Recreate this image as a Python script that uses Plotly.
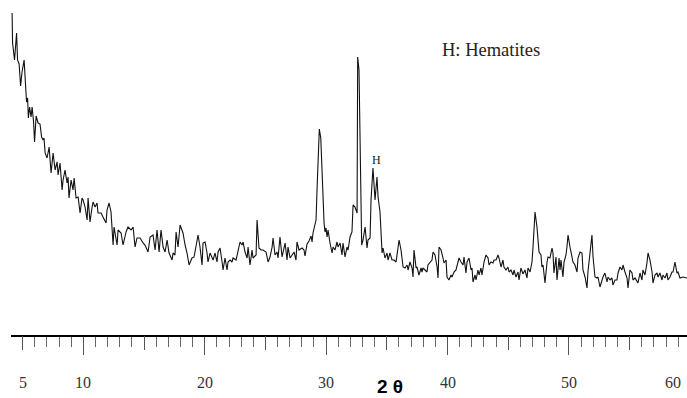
import plotly.graph_objects as go

# Powder XRD scan: diffraction angle (degrees 2-theta) and intensity (arb. units)
two_theta = [
    4.13, 4.17, 4.33, 4.50, 4.58, 4.71, 4.83, 4.95, 5.12, 5.32, 5.41, 5.47, 5.57, 5.69, 5.78, 5.90,
    5.98, 6.11, 6.27, 6.43, 6.56, 6.68, 6.76, 6.85, 7.01, 7.18, 7.34, 7.51, 7.67, 7.84, 7.92, 8.08,
    8.25, 8.33, 8.49, 8.66, 8.74, 8.82, 8.99, 9.15, 9.24, 9.40, 9.57, 9.73, 9.89, 9.98, 10.14, 10.31,
    10.39, 10.55, 10.72, 10.80, 10.97, 11.13, 11.21, 11.46, 11.62, 11.87, 11.95, 12.12, 12.28, 12.45,
    12.53, 12.78, 12.86, 13.11, 13.27, 13.52, 13.68, 13.93, 14.10, 14.26, 14.42, 14.67, 14.92, 15.08,
    15.33, 15.50, 15.74, 15.91, 16.07, 16.24, 16.40, 16.57, 16.73, 16.90, 17.06, 17.31, 17.39, 17.55,
    17.64, 17.80, 17.97, 18.13, 18.21, 18.38, 18.54, 18.71, 18.95, 19.12, 19.37, 19.45, 19.61, 19.78,
    19.86, 20.03, 20.19, 20.27, 20.44, 20.69, 20.85, 21.01, 21.10, 21.26, 21.43, 21.51, 21.67, 21.84,
    21.92, 22.09, 22.25, 22.33, 22.58, 22.74, 22.91, 23.07, 23.16, 23.32, 23.49, 23.57, 23.73, 23.90,
    23.98, 24.23, 24.31, 24.47, 24.64, 24.80, 25.05, 25.22, 25.38, 25.55, 25.63, 25.79, 25.96, 26.04,
    26.20, 26.37, 26.45, 26.62, 26.78, 26.86, 27.03, 27.19, 27.36, 27.52, 27.60, 27.77, 28.02, 28.18,
    28.26, 28.43, 28.59, 28.76, 28.84, 28.92, 29.17, 29.25, 29.38, 29.44, 29.56, 29.66, 29.75, 29.83,
    29.91, 29.99, 30.08, 30.16, 30.32, 30.49, 30.57, 30.73, 30.90, 30.98, 31.15, 31.31, 31.39, 31.56,
    31.72, 31.81, 31.97, 32.13, 32.22, 32.38, 32.55, 32.60, 32.71, 32.85, 32.93, 33.04, 33.21, 33.37,
    33.45, 33.62, 33.70, 33.86, 34.03, 34.19, 34.28, 34.44, 34.61, 34.69, 34.85, 35.02, 35.10, 35.26,
    35.43, 35.59, 35.76, 35.92, 36.01, 36.17, 36.34, 36.50, 36.67, 36.75, 36.91, 37.08, 37.16, 37.24,
    37.41, 37.49, 37.65, 37.82, 37.90, 37.98, 38.15, 38.31, 38.39, 38.56, 38.72, 38.81, 38.97, 39.14,
    39.22, 39.30, 39.47, 39.63, 39.71, 39.88, 39.96, 40.12, 40.29, 40.37, 40.54, 40.70, 40.87, 40.95,
    41.11, 41.28, 41.36, 41.52, 41.61, 41.77, 41.94, 42.02, 42.10, 42.27, 42.35, 42.51, 42.60, 42.76,
    42.84, 43.01, 43.17, 43.34, 43.42, 43.58, 43.75, 43.83, 44.00, 44.16, 44.24, 44.41, 44.57, 44.65,
    44.82, 44.98, 45.07, 45.23, 45.40, 45.48, 45.64, 45.81, 45.89, 46.05, 46.22, 46.38, 46.55, 46.63,
    46.80, 46.96, 47.04, 47.21, 47.37, 47.46, 47.54, 47.70, 47.78, 47.87, 48.03, 48.20, 48.28, 48.44,
    48.61, 48.69, 48.77, 48.94, 49.02, 49.19, 49.27, 49.35, 49.51, 49.60, 49.76, 49.84, 49.93, 50.09,
    50.26, 50.34, 50.50, 50.67, 50.75, 50.92, 51.08, 51.16, 51.33, 51.49, 51.57, 51.74, 51.90, 51.99,
    52.15, 52.32, 52.40, 52.56, 52.73, 52.81, 52.97, 53.14, 53.22, 53.39, 53.55, 53.63, 53.80, 53.96,
    54.05, 54.21, 54.37, 54.46, 54.62, 54.79, 54.87, 55.03, 55.20, 55.28, 55.45, 55.61, 55.69, 55.86,
    56.02, 56.10, 56.27, 56.43, 56.52, 56.68, 56.85, 56.93, 57.09, 57.26, 57.34, 57.50, 57.67, 57.75,
    57.92, 58.08, 58.16, 58.33, 58.49, 58.58, 58.74, 58.90, 58.99, 59.15, 59.40, 59.73,
]

intensity = [
    322, 292, 275, 302, 275, 271, 249, 263, 275, 233, 237, 217, 228, 218, 228, 213,
    193, 219, 212, 211, 198, 195, 197, 182, 177, 188, 162, 182, 165, 173, 160, 172,
    145, 155, 165, 152, 158, 137, 155, 145, 157, 137, 138, 122, 137, 135, 128, 115,
    137, 113, 128, 133, 128, 132, 122, 122, 118, 112, 125, 132, 123, 90,
    108, 90, 105, 102, 90, 103, 108, 105, 108, 88, 97, 97, 92, 90,
    83, 98, 100, 85, 105, 83, 105, 88, 83, 95, 82, 75, 82, 80,
    103, 88, 110, 105, 102, 90, 82, 70, 77, 78, 92, 100, 88, 70,
    92, 93, 82, 73, 82, 75, 82, 73, 83, 87, 73, 65, 77, 65,
    73, 75, 73, 77, 75, 85, 93, 90, 93, 83, 77, 88, 70, 85,
    77, 80, 115, 87, 85, 85, 83, 73, 78, 88, 97, 80, 83, 77,
    98, 78, 83, 92, 75, 88, 77, 80, 83, 75, 93, 85, 87, 85,
    79, 91, 94, 99, 93, 102, 115, 145, 185, 206, 197, 162, 130, 112,
    103, 107, 98, 105, 92, 82, 88, 85, 93, 88, 92, 80, 92, 78,
    88, 85, 98, 103, 130, 128, 122, 278, 265, 152, 90, 95, 108, 87,
    95, 97, 135, 167, 135, 158, 138, 123, 82, 87, 77, 82, 75, 82,
    75, 75, 73, 87, 95, 85, 68, 67, 70, 65, 73, 67, 58, 85,
    67, 68, 60, 67, 63, 67, 65, 63, 70, 73, 75, 83, 80, 68,
    57, 88, 85, 77, 72, 75, 58, 55, 60, 58, 63, 65, 73, 77,
    73, 70, 78, 62, 73, 77, 65, 67, 53, 60, 55, 65, 60, 67,
    60, 73, 80, 77, 70, 73, 72, 75, 75, 80, 77, 68, 75, 68,
    65, 68, 63, 65, 60, 65, 58, 63, 55, 67, 61, 65, 57, 67,
    63, 73, 87, 123, 108, 95, 83, 80, 68, 70, 52, 73, 78, 77,
    87, 82, 62, 78, 55, 77, 65, 75, 58, 73, 80, 88, 100, 88,
    75, 73, 70, 63, 77, 83, 82, 65, 58, 47, 63, 85, 100, 78,
    58, 57, 58, 48, 55, 58, 62, 53, 58, 55, 57, 50, 55, 55,
    62, 68, 65, 70, 63, 57, 47, 65, 62, 55, 57, 53, 52, 62,
    55, 65, 60, 72, 82, 75, 63, 52, 60, 62, 58, 62, 55, 60,
    57, 62, 55, 58, 63, 63, 73, 62, 63, 57, 58, 57,
]

# Axis tick positions and labels
major_ticks = [10, 20, 30, 40, 50]
mid_ticks = [5, 15, 25, 35, 45, 55]
tick_labels = [5, 10, 20, 30, 40, 50]
edge_label = "60"

x_range = [4.04, 59.73]
y_range = [0, 335]

fig = go.Figure()
fig.add_trace(go.Scatter(
    x=two_theta, y=intensity, mode="lines",
    line=dict(color="#111111", width=1.1),
    showlegend=False, hoverinfo="skip",
))
# invisible trace so the secondary x axis (mid ticks) is drawn
fig.add_trace(go.Scatter(x=[None], y=[None], xaxis="x2", showlegend=False))

serif = "Liberation Serif, Times New Roman, serif"
label_color = "#333333"

annotations = []
for v in tick_labels:
    annotations.append(dict(
        x=v, xref="x", y=0, yref="paper", yshift=-47,
        text=str(v), showarrow=False, xanchor="center", yanchor="middle",
        font=dict(family=serif, size=16, color=label_color),
    ))
annotations.append(dict(
    x=1, xref="paper", xanchor="right", xshift=-4, y=0, yref="paper", yshift=-47,
    text=edge_label, showarrow=False, yanchor="middle",
    font=dict(family=serif, size=16, color=label_color),
))
# axis title
annotations.append(dict(
    x=0.5606, xref="paper", y=0, yref="paper", yshift=-51,
    text="<b>2 θ</b>", showarrow=False, xanchor="center", yanchor="middle",
    font=dict(family="Liberation Sans, Arial, sans-serif", size=19, color="#000000"),
))
# phase legend and peak marker
annotations.append(dict(
    x=0.710, xref="paper", y=0.851, yref="paper",
    text="H: Hematites", showarrow=False, xanchor="center", yanchor="middle",
    font=dict(family=serif, size=18.5, color="#222222"),
))
annotations.append(dict(
    x=34.11, xref="x", y=175, yref="y",
    text="H", showarrow=False, xanchor="center", yanchor="middle",
    font=dict(family=serif, size=12, color="#222222"),
))

fig.update_layout(
    width=687, height=398,
    margin=dict(l=11, r=0, t=0, b=63, pad=0),
    paper_bgcolor="white", plot_bgcolor="white",
    xaxis=dict(
        range=x_range, showgrid=False, zeroline=False,
        showline=True, linecolor="#000000", linewidth=1.5,
        tickmode="array", tickvals=major_ticks, showticklabels=False,
        ticks="outside", ticklen=18, tickwidth=1, tickcolor="#555555",
        minor=dict(dtick=1, tick0=0, ticks="outside", ticklen=10,
                   tickwidth=1, tickcolor="#666666", showgrid=False),
    ),
    xaxis2=dict(
        range=x_range, overlaying="x", anchor="y", side="bottom",
        showgrid=False, zeroline=False, showline=False,
        tickmode="array", tickvals=mid_ticks, showticklabels=False,
        ticks="outside", ticklen=14, tickwidth=1, tickcolor="#555555",
    ),
    yaxis=dict(range=y_range, visible=False),
    annotations=annotations,
)

fig.write_html("out.html")
